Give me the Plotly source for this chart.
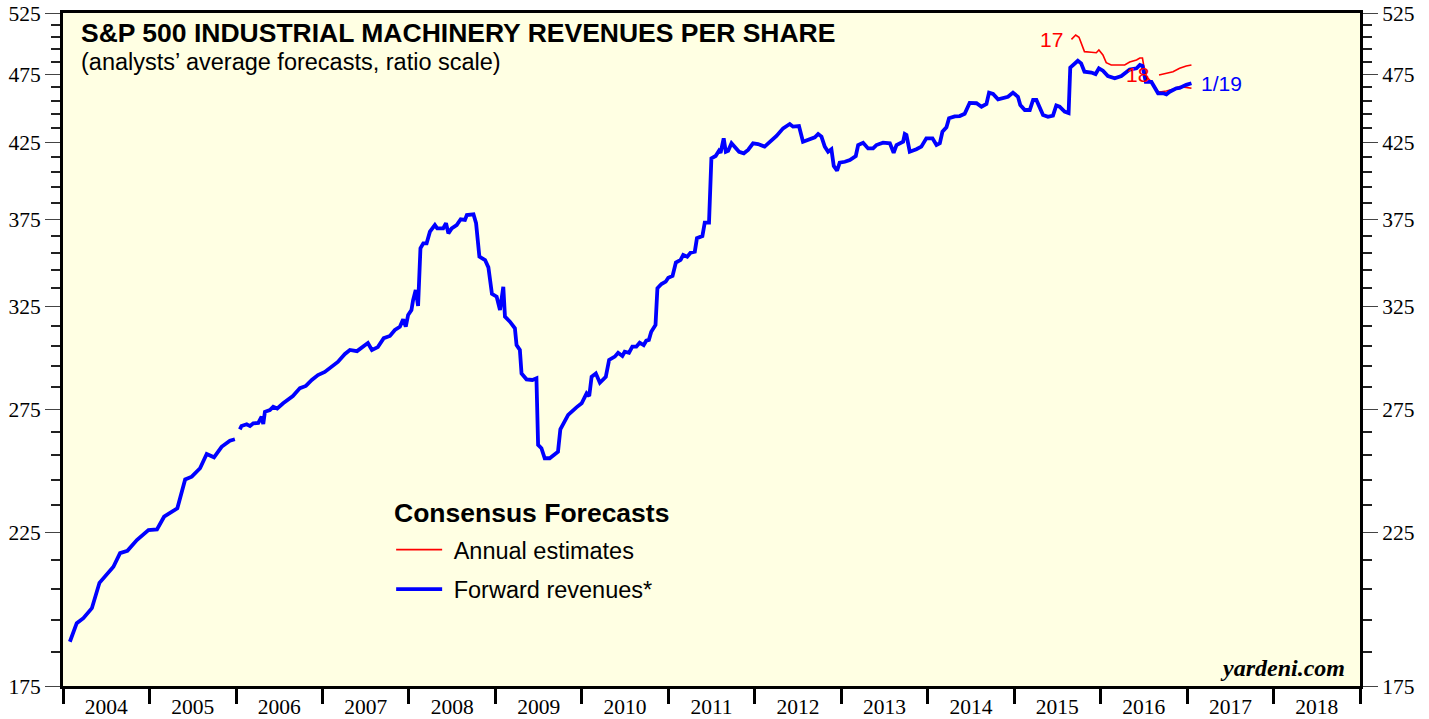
import math
import plotly.graph_objects as go

# ---- data ----
fwd_dates = [
    "2004-01-30","2004-02-28","2004-03-27","2004-05-02","2004-06-03","2004-07-04","2004-08-01","2004-08-29",
    "2004-09-29","2004-11-08","2004-12-27","2005-02-01","2005-03-03","2005-04-28","2005-05-31","2005-06-28",
    "2005-08-02","2005-08-30","2005-09-30","2005-11-01","2005-12-06","2005-12-27","2006-01-05",
    "2006-01-17","2006-01-24","2006-02-15","2006-03-01","2006-03-15","2006-04-05","2006-04-19","2006-04-26",
    "2006-05-03","2006-05-24","2006-06-07","2006-06-24","2006-07-19","2006-08-08","2006-08-29","2006-09-28",
    "2006-10-23","2006-11-17","2006-12-13","2007-01-11","2007-02-10","2007-03-07","2007-04-06","2007-04-27",
    "2007-05-27","2007-06-21","2007-07-12","2007-07-29","2007-08-23","2007-09-17","2007-10-13","2007-11-03",
    "2007-11-24","2007-12-08","2007-12-19","2007-12-29","2008-01-12","2008-01-19","2008-01-30","2008-02-09",
    "2008-02-19","2008-03-02","2008-03-16","2008-03-30","2008-04-20","2008-04-30","2008-05-25","2008-06-06",
    "2008-06-16","2008-06-30","2008-07-21","2008-08-07","2008-08-25","2008-09-02","2008-09-30","2008-10-11",
    "2008-10-25","2008-11-18","2008-12-02","2008-12-17","2009-01-06","2009-01-20","2009-02-03","2009-02-10",
    "2009-03-03","2009-03-24","2009-03-31","2009-04-14","2009-04-21","2009-05-12","2009-06-06","2009-06-23",
    "2009-06-30","2009-07-14","2009-07-28","2009-08-18","2009-09-22","2009-10-02","2009-10-21","2009-11-04",
    "2009-12-09","2009-12-31","2010-01-21","2010-02-01","2010-02-11","2010-03-01","2010-03-18","2010-04-12",
    "2010-04-26","2010-05-20","2010-06-03","2010-06-21","2010-07-01","2010-07-19","2010-08-02","2010-08-19",
    "2010-09-02","2010-09-19","2010-09-30","2010-10-11","2010-10-21","2010-11-08","2010-11-16","2010-12-03",
    "2010-12-21","2011-01-01","2011-01-19","2011-02-02","2011-02-22","2011-03-05","2011-03-22","2011-04-05",
    "2011-04-23","2011-05-02","2011-05-25","2011-06-04","2011-06-22","2011-07-02","2011-07-20","2011-08-03",
    "2011-08-10","2011-08-23","2011-09-01","2011-09-11","2011-09-25","2011-10-12","2011-10-27","2011-11-16",
    "2011-12-04","2011-12-25","2012-01-15","2012-02-12","2012-03-05","2012-04-02","2012-04-30","2012-05-28",
    "2012-06-11","2012-07-06","2012-07-23","2012-08-21","2012-09-11","2012-09-25","2012-10-09","2012-10-23",
    "2012-11-06","2012-11-20","2012-11-30","2012-12-14","2012-12-25","2013-01-16","2013-02-06","2013-03-03",
    "2013-03-13","2013-04-03","2013-04-24","2013-05-15","2013-05-29","2013-06-26","2013-07-25","2013-08-10",
    "2013-08-22","2013-09-19","2013-09-26","2013-10-03","2013-10-17","2013-11-14","2013-12-05","2013-12-26",
    "2014-01-21","2014-02-07","2014-02-21","2014-03-04","2014-03-21","2014-04-01","2014-04-25","2014-05-16",
    "2014-06-06","2014-06-27","2014-07-26","2014-08-16","2014-09-06","2014-09-17","2014-10-04","2014-10-25",
    "2014-11-15","2014-12-06","2014-12-27","2015-01-17","2015-01-27","2015-02-15","2015-03-08","2015-03-22",
    "2015-04-05","2015-04-19","2015-05-03","2015-05-24","2015-06-14","2015-06-28","2015-07-12","2015-08-02",
    "2015-08-19","2015-08-26","2015-09-13","2015-09-27","2015-10-11","2015-10-25","2015-11-23","2015-12-11",
    "2015-12-25","2016-01-11","2016-02-01","2016-03-01","2016-03-29","2016-05-03","2016-06-01","2016-06-15",
    "2016-06-26","2016-07-04","2016-07-10","2016-08-03","2016-08-17","2016-08-31","2016-09-21","2016-10-05",
    "2016-10-19","2016-11-02","2016-11-16","2016-11-30","2016-12-14","2016-12-28","2017-01-19",
]
fwd_values = [
    188.1,193.9,195.5,198.7,207.1,209.8,212.6,217.4,
    218.2,222.1,225.7,226.0,230.7,233.9,245.2,246.3,
    249.7,255.6,254.2,258.6,261.2,261.8,None,
    266.1,267.5,268.3,267.5,268.7,268.9,271.6,268.4,
    273.8,274.6,276.1,275.3,277.6,279.1,280.9,284.6,
    285.6,288.4,290.7,292.2,295.0,297.0,300.9,302.9,
    302.3,304.3,306.3,302.9,304.3,308.8,309.9,312.9,
    314.6,318.4,314.6,320.7,323.3,328.6,334.0,325.4,
    357.6,360.5,360.5,367.4,371.4,369.4,369.4,372.5,
    366.4,369.4,371.4,374.9,374.5,377.5,378.0,372.5,
    352.7,350.8,346.6,331.9,330.4,323.3,335.8,319.8,
    317.2,313.8,305.3,302.9,291.5,288.7,288.4,289.2,
    259.4,258.0,253.8,253.8,256.5,266.1,270.2,272.4,
    275.8,277.6,282.2,280.9,289.9,291.5,287.1,289.9,
    298.0,299.6,301.5,299.9,302.0,301.5,304.5,304.5,
    306.5,305.3,307.5,307.9,312.0,315.5,335.0,337.3,
    338.6,340.8,341.8,349.3,350.8,353.7,352.7,355.0,
    355.6,363.5,364.8,372.8,372.8,414.1,415.7,419.3,
    417.9,427.9,418.6,419.3,424.4,421.6,418.6,417.5,
    419.8,424.4,423.9,422.1,425.5,429.5,434.9,438.0,
    436.1,436.5,425.5,427.2,428.6,430.9,429.1,422.1,
    418.6,420.3,409.0,405.8,411.2,411.8,413.0,415.7,
    423.2,424.8,420.9,420.9,423.2,424.8,424.4,417.9,
    423.2,425.5,430.9,430.2,418.6,420.3,422.1,427.9,
    427.9,423.2,424.4,432.5,435.6,442.1,443.5,443.7,
    445.4,453.3,453.1,450.5,452.5,461.0,460.0,456.0,
    456.6,457.9,461.0,457.9,451.8,448.1,448.1,455.5,
    455.5,449.4,444.5,443.2,444.0,451.4,450.5,446.9,
    445.9,480.2,483.6,485.6,483.6,477.0,476.4,475.2,
    479.7,477.8,473.7,471.9,473.7,478.7,479.7,482.3,
    481.5,471.6,469.1,469.1,464.3,460.5,460.5,459.7,
    461.7,463.0,464.3,464.5,466.0,466.9,468.1,
]

est17_dates = [
    "2015-08-31","2015-09-18","2015-10-02","2015-10-16","2015-10-25","2015-11-23","2015-12-14","2015-12-25",
    "2016-01-11","2016-01-25","2016-02-15","2016-04-12","2016-05-03","2016-06-01","2016-06-15","2016-06-26",
    "2016-07-01","2016-07-13","2016-08-03","2016-08-17","2016-08-31","2016-09-14","2016-10-05","2016-11-02",
    "2016-11-30","2016-12-28","2017-01-19",
]
est17_values = [
    502.9,506.5,504.6,498.3,492.9,492.4,492.0,494.2,
    490.2,484.1,482.3,482.3,484.6,486.2,487.8,487.8,
    482.3,473.1,469.3,465.5,461.7,461.7,462.2,463.5,
    465.5,465.0,464.3,
]

est18_dates = ["2016-09-04","2016-09-21","2016-10-12","2016-11-02","2016-11-30","2016-12-28","2017-01-19"]
est18_values = [474.5,475.2,476.3,477.0,479.7,481.5,482.3]

y_major = [175, 225, 275, 325, 375, 425, 475, 525]
y_minor = [v for v in range(185, 525, 10) if v not in y_major]

x_start, x_end = "2004-01-01", "2019-01-01"

BLUE = "#0000FF"
RED = "#FF0000"
BG = "#FFFFE3"
SERIF = "Liberation Serif, Times New Roman, serif"
SANS = "Liberation Sans, Arial, Helvetica, sans-serif"
NB = "\u00a0"

fig = go.Figure()

fig.add_trace(go.Scatter(
    x=est17_dates, y=est17_values, mode="lines", name=NB + "Annual estimates",
    line=dict(color=RED, width=1.6), legendgroup="a",
))
fig.add_trace(go.Scatter(
    x=est18_dates, y=est18_values, mode="lines", name="Annual estimates 18",
    line=dict(color=RED, width=1.6), legendgroup="a", showlegend=False,
))
fig.add_trace(go.Scatter(
    x=fwd_dates, y=fwd_values, mode="lines", name=NB + "Forward revenues*",
    line=dict(color=BLUE, width=3.8), legendgroup="b",
))
# twin for the right-hand axis
fig.add_trace(go.Scatter(
    x=fwd_dates, y=fwd_values, mode="lines", yaxis="y2", showlegend=False,
    line=dict(color="rgba(0,0,0,0)", width=0), hoverinfo="skip",
))

yr = [math.log10(175), math.log10(525)]
yaxis_common = dict(
    type="log", range=yr, tickmode="array", tickvals=y_major,
    ticktext=[str(v) for v in y_major], automargin=False,
    ticks="outside", ticklen=15, tickwidth=1, tickcolor="#444444",
    tickfont=dict(family=SERIF, size=21.5, color="black"),
    showgrid=False, zeroline=False, showline=True, linecolor="black", linewidth=3,
    minor=dict(tickmode="array", tickvals=y_minor, ticks="outside", ticklen=9,
               tickwidth=2, tickcolor="#222222", showgrid=False),
)

fig.update_layout(
    width=1429, height=719,
    margin=dict(l=63, r=69, t=13, b=33, autoexpand=False),
    paper_bgcolor="white", plot_bgcolor=BG,
    xaxis=dict(
        type="date", range=[x_start, x_end], tick0="2004-01-01", dtick="M12",
        ticklabelmode="period", tickformat="%Y", automargin=False,
        ticks="outside", ticklen=15, tickwidth=3, tickcolor="black",
        ticklabelstandoff=-16,
        tickfont=dict(family=SERIF, size=21.5, color="black"),
        showgrid=False, zeroline=False, showline=True, mirror=True,
        linecolor="black", linewidth=3,
    ),
    yaxis=dict(side="left", **yaxis_common),
    yaxis2=dict(side="right", overlaying="y", **yaxis_common),
    showlegend=True,
    legend=dict(
        x=0.253, y=0.235, xanchor="left", yanchor="top",
        bgcolor="rgba(0,0,0,0)", borderwidth=0,
        font=dict(family=SANS, size=23.5, color="black"),
        traceorder="grouped", tracegroupgap=6, itemwidth=46,
    ),
    annotations=[
        dict(text="<b>S&P 500 INDUSTRIAL MACHINERY REVENUES PER SHARE</b>",
             xref="paper", yref="paper", x=0.012, y=0.970, xanchor="left", yanchor="middle",
             showarrow=False, font=dict(family=SANS, size=26.5, color="black")),
        dict(text="(analysts’ average forecasts, ratio scale)",
             xref="paper", yref="paper", x=0.012, y=0.927, xanchor="left", yanchor="middle",
             showarrow=False, font=dict(family=SANS, size=23.5, color="black")),
        dict(text="<b>Consensus Forecasts</b>",
             xref="paper", yref="paper", x=0.2535, y=0.257, xanchor="left", yanchor="middle",
             showarrow=False, font=dict(family=SANS, size=26.5, color="black")),
        dict(text="17", x=est17_dates[0], y=math.log10(est17_values[0]), xref="x", yref="y",
             xanchor="right", yanchor="middle", xshift=-6, showarrow=False,
             font=dict(family=SANS, size=21, color=RED)),
        dict(text="18", x=est18_dates[0], y=math.log10(est18_values[0]), xref="x", yref="y",
             xanchor="right", yanchor="middle", xshift=-8, showarrow=False,
             font=dict(family=SANS, size=21, color=RED)),
        dict(text="1/19", x=fwd_dates[-1], y=math.log10(fwd_values[-1]), xref="x", yref="y",
             xanchor="left", yanchor="middle", xshift=8, showarrow=False,
             font=dict(family=SANS, size=21, color=BLUE)),
        dict(text="<b><i>yardeni.com</i></b>", xref="paper", yref="paper", x=0.99, y=0.004,
             xanchor="right", yanchor="bottom", showarrow=False,
             font=dict(family=SERIF, size=24, color="black")),
    ],
)

fig.write_html(
    "out.html",
    config={"displayModeBar": False},
    post_script="document.body.style.margin='0';document.body.style.overflow='hidden';",
)
